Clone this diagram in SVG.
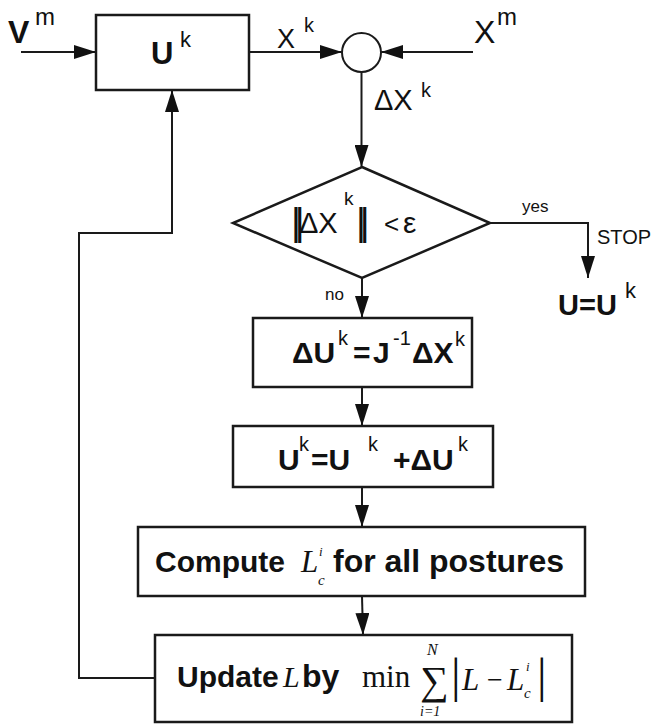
<svg xmlns="http://www.w3.org/2000/svg" width="654" height="726" viewBox="0 0 654 726">
<style>
.box{fill:#fff;stroke:#1a1a1a;stroke-width:2.5}
.ln{fill:none;stroke:#1a1a1a;stroke-width:2}
.t{font-family:"Liberation Sans",Arial,sans-serif;fill:#111}
.b{font-weight:bold}
.m{font-family:"Liberation Serif","Times New Roman",serif;fill:#111}
.i{font-style:italic}
</style>
<defs>
<marker id="ar" markerUnits="userSpaceOnUse" markerWidth="22" markerHeight="14" refX="22" refY="7" orient="auto">
<path d="M0,0 L22,7 L0,14 z" fill="#111"/>
</marker>
</defs>
<rect width="654" height="726" fill="#fff"/>
<g id="connectors">
<line class="ln" x1="21" y1="52" x2="96" y2="52" marker-end="url(#ar)"/>
<line class="ln" x1="249" y1="52" x2="342" y2="52" marker-end="url(#ar)"/>
<line class="ln" x1="473" y1="52" x2="381" y2="52" marker-end="url(#ar)"/>
<line class="ln" x1="361.5" y1="72" x2="361.5" y2="167" marker-end="url(#ar)"/>
<polyline class="ln" points="490,223 588,223 588,278" marker-end="url(#ar)"/>
<line class="ln" x1="362" y1="278" x2="362" y2="318" marker-end="url(#ar)"/>
<line class="ln" x1="362" y1="387" x2="362" y2="426" marker-end="url(#ar)"/>
<line class="ln" x1="362" y1="487" x2="362" y2="527" marker-end="url(#ar)"/>
<line class="ln" x1="362" y1="596" x2="363" y2="635" marker-end="url(#ar)"/>
<polyline class="ln" points="155,678 79,678 79,233 172,233 172,90" marker-end="url(#ar)"/>
</g>
<g id="input-v">
<text class="t b" x="8" y="43" font-size="32">V</text>
<text class="t" x="35" y="25" font-size="24">m</text>
</g>
<g id="node-uk">
<rect class="box" x="96" y="15" width="153" height="75"/>
<text class="t b" x="151" y="64" font-size="31">U</text>
<text class="t" x="180" y="47" font-size="22">k</text>
</g>
<g id="label-xk">
<text class="t" x="277" y="48" font-size="27">X</text>
<text class="t" x="304" y="32" font-size="20">k</text>
</g>
<g id="input-xm">
<text class="t" x="474" y="43" font-size="32">X</text>
<text class="t" x="497" y="25" font-size="24">m</text>
</g>
<g id="node-sum">
<circle cx="361.5" cy="52.5" r="19.5" fill="#fff" stroke="#1a1a1a" stroke-width="2"/>
</g>
<g id="label-dx">
<text class="t" x="374" y="110" font-size="29">ΔX</text>
<text class="t" x="421" y="97" font-size="20">k</text>
</g>
<g id="node-decision">
<polygon class="box" points="362,167 490,223 362,278 233,223" stroke-width="2"/>
<text class="t" x="291" y="235" font-size="38" letter-spacing="-6">||</text>
<text class="t" x="299" y="233" font-size="29">ΔX</text>
<text class="t" x="344" y="205" font-size="19">k</text>
<text class="t" x="356" y="235" font-size="38" letter-spacing="-6">||</text>
<text class="t" x="384" y="233" font-size="26">&lt;</text>
<text class="t" x="403" y="233" font-size="30">ε</text>
</g>
<g id="labels-branch">
<text class="t" x="522" y="212" font-size="17">yes</text>
<text class="t" x="597" y="244" font-size="20">STOP</text>
<text class="t" x="325" y="300" font-size="17">no</text>
</g>
<g id="node-result">
<text class="t b" x="558" y="315" font-size="29">U=U</text>
<text class="t" x="625" y="298" font-size="22">k</text>
</g>
<g id="node-du">
<rect class="box" x="253" y="318" width="219" height="69"/>
<text class="t b" x="292" y="363" font-size="30">ΔU</text>
<text class="t" x="338" y="345" font-size="20">k</text>
<text class="t b" x="353" y="363" font-size="30">=</text>
<text class="t b" x="373" y="363" font-size="30">J</text>
<text class="t" x="393" y="345" font-size="20">-1</text>
<text class="t b" x="412" y="363" font-size="30">ΔX</text>
<text class="t" x="455" y="346" font-size="20">k</text>
</g>
<g id="node-update-u">
<rect class="box" x="233" y="426" width="260" height="61"/>
<text class="t b" x="278" y="470" font-size="30">U</text>
<text class="t" x="299" y="451" font-size="20">k</text>
<text class="t b" x="311" y="470" font-size="30">=U</text>
<text class="t" x="368" y="451" font-size="20">k</text>
<text class="t b" x="393" y="470" font-size="30">+ΔU</text>
<text class="t" x="458" y="451" font-size="20">k</text>
</g>
<g id="node-compute">
<rect class="box" x="138" y="527" width="447" height="69"/>
<text class="t b" x="155" y="572" font-size="30">Compute</text>
<text class="m i" x="301" y="572" font-size="31">L</text>
<text class="m i" x="319" y="556" font-size="13">i</text>
<text class="m i" x="318" y="585" font-size="15">c</text>
<text class="t b" x="333" y="572" font-size="32">for all postures</text>
</g>
<g id="node-update-l">
<rect class="box" x="155" y="635" width="417" height="87"/>
<text class="t b" x="177" y="687" font-size="30">Update</text>
<text class="m i" x="283" y="687" font-size="30">L</text>
<text class="t b" x="302" y="687" font-size="32">by</text>
<text class="m" x="362" y="687" font-size="31">min</text>
<text class="m" x="420" y="694" font-size="40">∑</text>
<text class="m i" x="427" y="655" font-size="16">N</text>
<text class="m i" x="420" y="716" font-size="14">i=1</text>
<text class="m" x="451" y="692" font-size="48">|</text>
<text class="m i" x="462" y="690" font-size="31">L</text>
<text class="m" x="487" y="689" font-size="28">−</text>
<text class="m i" x="507" y="690" font-size="31">L</text>
<text class="m i" x="526" y="671" font-size="13">i</text>
<text class="m i" x="524" y="698" font-size="15">c</text>
<text class="m" x="537" y="692" font-size="48">|</text>
</g>
</svg>
